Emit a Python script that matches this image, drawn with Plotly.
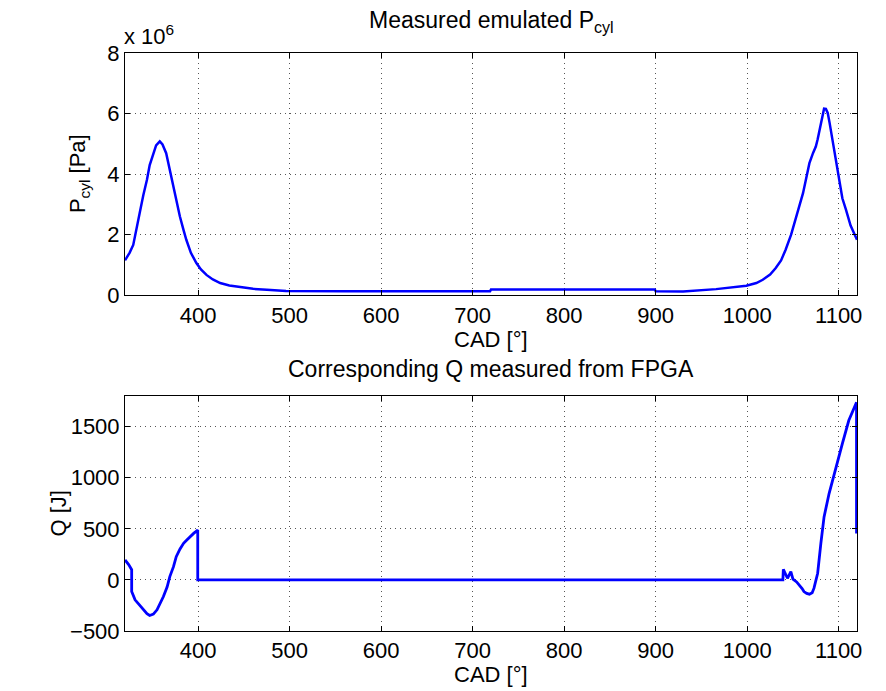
import plotly.graph_objs as go
from plotly.subplots import make_subplots

# Top: emulated cylinder pressure [Pa]
cad_p = [320, 325, 329, 333, 336, 340, 344, 347, 351, 354, 358, 361, 365, 369, 373, 376,
         380, 384, 387, 392, 398, 403, 409, 416, 424, 434, 446, 460, 475, 496,
         560, 650, 719, 720, 800, 899, 900, 930, 966, 999, 1010, 1017, 1025, 1031, 1037,
         1042, 1048, 1053, 1057, 1061, 1064, 1068, 1072, 1075, 1077, 1079, 1082, 1084,
         1086, 1088, 1090, 1093, 1097, 1101, 1104, 1108, 1113, 1120]
p_cyl = [1.15e6, 1.4e6, 1.66e6, 2.2e6, 2.71e6, 3.3e6, 3.81e6, 4.3e6, 4.69e6, 4.95e6,
         5.08e6, 4.98e6, 4.69e6, 4.15e6, 3.59e6, 3.1e6, 2.6e6, 2.15e6, 1.83e6, 1.4e6,
         1.06e6, 0.85e6, 0.67e6, 0.52e6, 0.40e6, 0.32e6, 0.26e6, 0.21e6, 0.18e6, 0.14e6,
         0.13e6, 0.13e6, 0.13e6, 0.19e6, 0.19e6, 0.19e6, 0.13e6, 0.12e6, 0.2e6, 0.31e6,
         0.4e6, 0.51e6, 0.68e6, 0.89e6, 1.15e6, 1.5e6, 2.0e6, 2.49e6, 2.95e6, 3.37e6,
         3.85e6, 4.36e6, 4.7e6, 4.91e6, 5.15e6, 5.46e6, 5.95e6, 6.16e6, 6.15e6, 6.02e6,
         5.7e6, 5.13e6, 4.4e6, 3.7e6, 3.2e6, 2.82e6, 2.3e6, 1.83e6]

# Bottom: heat release Q [J] from FPGA
cad_q = [320, 324, 327.3, 327.3, 331, 335, 340, 344, 347, 351, 355, 358, 362, 366, 369,
         373, 376, 380, 384, 387, 391, 395, 399.5, 399.5, 700, 1039, 1039.5, 1044,
         1047.7, 1050, 1054, 1057, 1060, 1062, 1065, 1068, 1071, 1073, 1075, 1077,
         1080.5, 1084, 1089.5, 1097, 1104, 1111, 1119.5, 1119.5]
q = [195, 150, 100, -114, -195, -240, -293, -330, -348, -335, -293, -240, -163, -70,
     32, 130, 227, 300, 358, 385, 422, 455, 488, 0, 0, 0, 104, 16, 81, 7, -20, -49,
     -85, -114, -132, -140, -125, -81, -20, 65, 358, 617, 845, 1105, 1333, 1560, 1738, 455]

font = 'Liberation Sans, Arial, sans-serif'
fsize = 22

fig = make_subplots(rows=2, cols=1)
fig.add_trace(go.Scatter(x=cad_p, y=p_cyl, mode='lines', line=dict(color='#0000ff', width=2.5)),
              row=1, col=1)
fig.add_trace(go.Scatter(x=cad_q, y=q, mode='lines', line=dict(color='#0000ff', width=2.8)),
              row=2, col=1)

axis_style = dict(showline=True, linecolor='black', linewidth=1, mirror='ticks', ticks='inside',
                  ticklen=5, tickcolor='black', showgrid=True, gridcolor='#555555',
                  griddash='1px,4px', gridwidth=1, zeroline=False,
                  tickfont=dict(size=fsize, color='black', family=font))
fig.update_xaxes(**axis_style)
fig.update_yaxes(**axis_style)

fig.update_xaxes(range=[320, 1120], tickvals=[400, 500, 600, 700, 800, 900, 1000, 1100])
fig.update_yaxes(range=[0, 8e6], tickvals=[0, 2e6, 4e6, 6e6, 8e6], ticktext=['0', '2', '4', '6', '8'],
                 domain=[0.581, 1.0], row=1, col=1)
fig.update_yaxes(range=[-500, 1800], tickvals=[-500, 0, 500, 1000, 1500],
                 domain=[0.0, 0.4066], row=2, col=1)


def text(label, x, y, xshift=0, yshift=0, angle=0, xanchor='center', yanchor='middle', size=fsize):
    return dict(text=label, x=x, y=y, xref='paper', yref='paper', xshift=xshift, yshift=yshift,
                textangle=angle, xanchor=xanchor, yanchor=yanchor, showarrow=False,
                font=dict(size=size, color='black', family=font))


fig.update_layout(
    width=878, height=683,
    margin=dict(l=117, r=29, t=45, b=60),
    plot_bgcolor='white', paper_bgcolor='white',
    showlegend=False,
    font=dict(family=font, color='black'),
    annotations=[
        text('Measured emulated P<sub>cyl</sub>', 0.5, 1.0, yshift=32, size=23),
        text('x 10<sup>6</sup>', 0.0, 1.0, xshift=-3, yshift=2, xanchor='left', yanchor='bottom'),
        text('CAD [°]', 0.5, 0.581, yshift=-44),
        text('P<sub>cyl</sub> [Pa]', 0.0, 0.7905, xshift=-46, angle=-90),
        text('Corresponding Q measured from FPGA', 0.5, 0.4066, yshift=27, size=23),
        text('CAD [°]', 0.5, 0.0, yshift=-43),
        text('Q [J]', 0.0, 0.2033, xshift=-67, angle=-90),
    ],
)

fig.write_html("out.html")
